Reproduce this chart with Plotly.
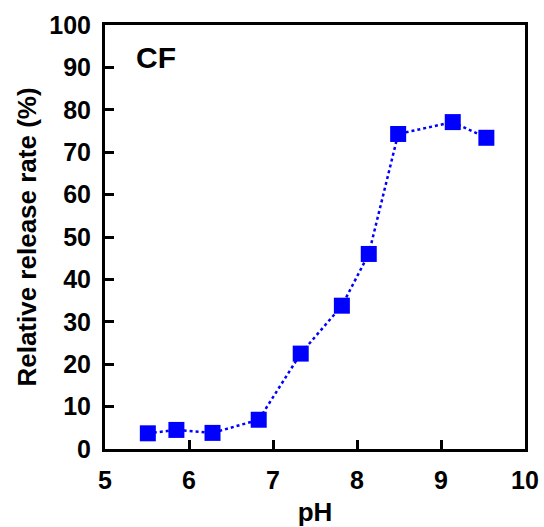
import plotly.graph_objects as go

ph = [5.51, 5.85, 6.28, 6.83, 7.33, 7.82, 8.14, 8.49, 9.14, 9.54]
release = [3.7, 4.5, 3.8, 6.9, 22.5, 33.8, 46.0, 74.3, 77.1, 73.4]
x_ticks = [5, 6, 7, 8, 9, 10]
y_ticks = [0, 10, 20, 30, 40, 50, 60, 70, 80, 90, 100]

font = "Liberation Sans, Arial, sans-serif"

fig = go.Figure()
fig.add_trace(go.Scatter(
    x=ph, y=release, mode="lines+markers",
    line=dict(color="#0000FF", width=2.5, dash="dot"),
    marker=dict(symbol="square", size=16, color="#0000FF"),
    showlegend=False,
))

axis_common = dict(
    showline=True, linecolor="black", linewidth=3, mirror=True,
    ticks="inside", ticklen=9, tickwidth=3, tickcolor="black",
    showgrid=False, zeroline=False,
    tickfont=dict(family=font, size=25, color="black", weight="bold"),
)

fig.update_layout(
    width=544, height=527,
    margin=dict(l=105, r=19, t=25, b=78, autoexpand=False),
    paper_bgcolor="white", plot_bgcolor="white",
    font=dict(family=font, color="black"),
    xaxis=dict(range=[5, 10], tickvals=x_ticks, ticktext=[str(v) for v in x_ticks],
               ticklabelstandoff=7,
               title=dict(text="<b>pH</b>", font=dict(family=font, size=26), standoff=12),
               **axis_common),
    yaxis=dict(range=[0, 100], tickvals=y_ticks, ticktext=[str(v) for v in y_ticks],
               ticklabelstandoff=6,
               title=dict(text="<b>Relative release rate (%)</b>", font=dict(family=font, size=26), standoff=6),
               **axis_common),
    annotations=[dict(text="<b>CF</b>", x=5.61, y=92.3, xref="x", yref="y", showarrow=False,
                      font=dict(family=font, size=30, color="black"))],
)

fig.write_html("out.html", config={"displayModeBar": False},
               post_script="document.body.style.margin='0';document.body.style.overflow='hidden';")
